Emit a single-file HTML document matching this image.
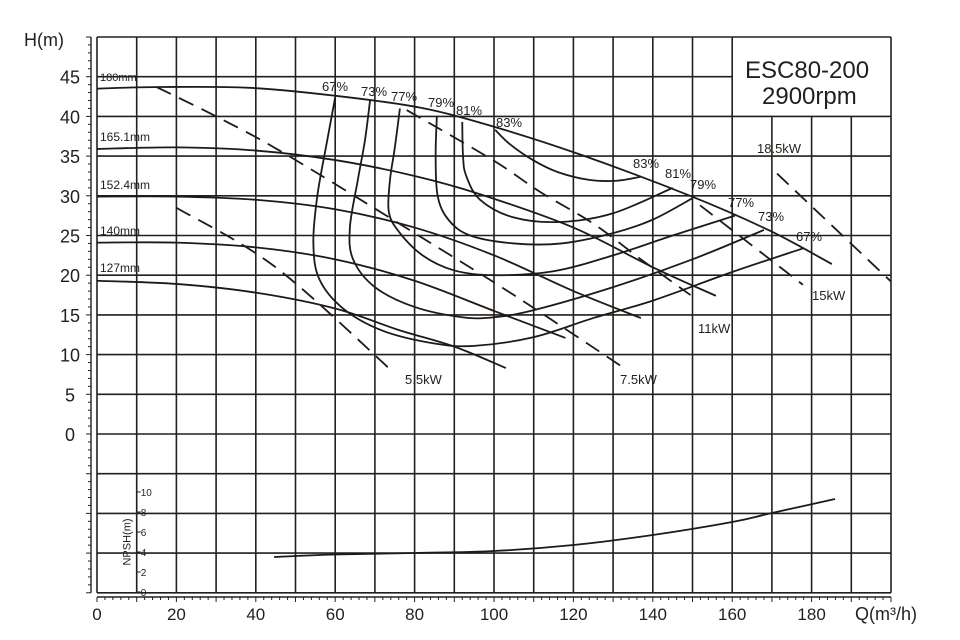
<!DOCTYPE html>
<html><head><meta charset="utf-8"><style>
body{margin:0;background:#fff}
svg{display:block;font-family:"Liberation Sans",sans-serif}
</style></head><body>
<svg id="chart" width="960" height="640" viewBox="0 0 960 640" xmlns="http://www.w3.org/2000/svg">
<rect width="960" height="640" fill="#fff"/>
<g id="grid"></g>
<g id="axes"></g>
<g id="curves"></g>
<g id="labels"></g>
</svg>
<script>
const qTicks=[0,20,40,60,80,100,120,140,160,180];
const hTicks=[0,5,10,15,20,25,30,35,40,45];
const npshTicks=[0,2,4,6,8,10];
const imp180=[[0,43.5],[15.9,43.7],[38.5,43.6],[60,42.6],[81.4,41.1],[100,38.7],[121.7,35.2],[149.4,30],[169.5,25.6],[185.1,21.4]];
const imp165=[[0,35.9],[20,36.1],[40,35.7],[60,34.5],[80,32.5],[96.5,30.2],[120,26],[140,21],[155.9,17.4]];
const imp152=[[0,29.9],[20,29.9],[40,29.5],[60,28.3],[80,26],[100,22.5],[120,18],[137,14.6]];
const imp140=[[0,24.1],[20,24.1],[40,23.5],[60,22],[80,19.3],[100,15.5],[118,12.1]];
const imp127=[[0,19.3],[20,18.9],[40,17.8],[60,15.8],[76,13.1],[90,11],[103,8.3]];
const eff67=[[60,42.4],[58,37],[55.5,30],[54.5,24],[56,19.5],[62,15.8],[72,13],[85,11.4],[95,11.1],[110,12.2],[125,14.6],[140,16.8],[160,20.4],[178,23.4]];
const eff73=[[68.8,42.1],[67.5,37],[65.7,32],[63.7,26],[64.5,22],[70,18.5],[80,16],[92,14.7],[100,14.7],[110,15.6],[130,18.5],[150,22],[168,25.7]];
const eff77=[[76.3,41],[75,36],[73.8,32],[73.5,28],[76,25.5],[82,22.5],[90,20.6],[100,20],[115,20.5],[130,22.5],[145,25],[160.7,27.5]];
const eff79=[[85.6,40],[85.3,35],[85.8,30],[88.5,27],[94,25],[105,24],[117,24],[130,25.3],[140,27],[150,29.7]];
const eff81=[[92,39.3],[92.2,35],[93,32.5],[96.5,29.5],[104.8,27.3],[116.6,26.7],[130,27.8],[145,31]];
const eff83=[[100.3,38.3],[104,36.5],[109.8,34.5],[116,33],[124,32],[131,31.9],[137,32.4]];
const kw55=[[20,28.5],[45,21],[74.6,7.8]];
const kw75=[[15,43.7],[30,40],[47,35.4],[80,25.3],[105,17.5],[132.5,8.4]];
const kw11=[[78,40.8],[99.7,34.5],[111.6,30.5],[125,26.5],[137,22],[149.5,17.5]];
const kw15=[[151.9,28.8],[177.8,18.8]];
const kw185=[[171.3,32.8],[200,19.2]];
const npsh=[[44.6,3.5],[60,3.75],[80,3.9],[100,4.1],[120,4.7],[140,5.7],[160,7],[170,7.9],[185.9,9.3]];

const X=q=>97+q*3.97, Y=h=>434-h*7.94, YN=n=>592-n*10;
const NS='http://www.w3.org/2000/svg';
function mk(tag,attrs,parent,txt){const e=document.createElementNS(NS,tag);for(const k in attrs)e.setAttribute(k,attrs[k]);if(txt!==undefined)e.textContent=txt;parent.appendChild(e);return e;}
const G=document.getElementById('grid'),A=document.getElementById('axes'),C=document.getElementById('curves'),L=document.getElementById('labels');
// grid
for(let q=0;q<=200;q+=10){
  const y1=(q>160&&q<200)?Y(40):Y(50);
  const l=mk('line',{x1:X(q),x2:X(q),y1:y1,y2:Y(-20),stroke:'#231f1c','stroke-width':1.6},G);
  
  
}
for(let h=-20;h<=50;h+=5){
  const x2=(h===45)?X(160):X(200);
  const l=mk('line',{x1:X(0),x2:x2,y1:Y(h),y2:Y(h),stroke:'#231f1c','stroke-width':1.6},G);
  
  
}
// left axis
mk('line',{x1:91,x2:91,y1:Y(50),y2:Y(-20),stroke:'#231f1c','stroke-width':1.4},A);
for(let h=-20;h<=50;h++){const m=h%5===0;mk('line',{x1:m?86:88,x2:91,y1:Y(h),y2:Y(h),stroke:'#231f1c','stroke-width':1},A);}
hTicks.forEach(h=>{const t=mk('text',{x:70,y:Y(h)+7,'font-size':18,'text-anchor':'middle',fill:'#231f1c'},A,String(h));

});
const yt=mk('text',{x:24,y:46,'font-size':18,fill:'#231f1c'},A,'H(m)');


// bottom axis
mk('line',{x1:X(0),x2:X(200),y1:597,y2:597,stroke:'#231f1c','stroke-width':1.4},A);
for(let q=0;q<=200;q+=2){const m=q%10===0;mk('line',{x1:X(q),x2:X(q),y1:597,y2:m?602:600,stroke:'#231f1c','stroke-width':1},A);}
qTicks.forEach(q=>{const t=mk('text',{x:X(q),y:620,'font-size':17,'text-anchor':'middle',fill:'#231f1c'},A,String(q));

});
const xt=mk('text',{x:855,y:620,'font-size':18,fill:'#231f1c'},A,'Q(m³/h)');


// NPSH axis
mk('line',{x1:X(10),x2:X(10),y1:YN(12),y2:YN(0),stroke:'#231f1c','stroke-width':1.4},A);
npshTicks.forEach(n=>{mk('line',{x1:X(10),x2:X(10)+4,y1:YN(n),y2:YN(n),stroke:'#231f1c','stroke-width':1},A);
const t=mk('text',{x:X(10)+4,y:YN(n)+4,'font-size':10,fill:'#231f1c'},A,String(n));

});
const nt=mk('text',{x:0,y:0,'font-size':11,'text-anchor':'middle',fill:'#231f1c',transform:`translate(${X(10)-6},${YN(5)}) rotate(-90)`},A,'NPSH(m)');


// title box bg
mk('rect',{x:X(160)+1,y:Y(50)+1,width:X(200)-X(160)-2,height:Y(40)-Y(50)-2,fill:'#fff'},L);
// curves
function pathD(pts,fx,fy){const p=pts.map(a=>[fx(a[0]),fy(a[1])]);let d=`M${p[0][0]},${p[0][1]}`;
for(let i=0;i<p.length-1;i++){const p0=p[i-1]||p[i],p1=p[i],p2=p[i+1],p3=p[i+2]||p2;
d+=` C${p1[0]+(p2[0]-p0[0])/6},${p1[1]+(p2[1]-p0[1])/6} ${p2[0]-(p3[0]-p1[0])/6},${p2[1]-(p3[1]-p1[1])/6} ${p2[0]},${p2[1]}`;}return d;}
function draw(pts,name,dash,fy){const p=mk('path',{d:pathD(pts,X,fy||Y),fill:'none',stroke:'#1e1a17','stroke-width':1.8},C);
if(dash)p.setAttribute('stroke-dasharray','16 9');

}
draw(imp180,'impeller-180mm');draw(imp165,'impeller-165-1mm');draw(imp152,'impeller-152-4mm');draw(imp140,'impeller-140mm');draw(imp127,'impeller-127mm');
draw(eff67,'efficiency-67');draw(eff73,'efficiency-73');draw(eff77,'efficiency-77');draw(eff79,'efficiency-79');draw(eff81,'efficiency-81');draw(eff83,'efficiency-83');
draw(kw55,'power-5-5kw',1);draw(kw75,'power-7-5kw',1);draw(kw11,'power-11kw',1);draw(kw15,'power-15kw',1);draw(kw185,'power-18-5kw',1);
draw(npsh,'npsh-curve',0,YN);
// labels
const labs=[['180mm',100,81,11,'label-180mm'],['165.1mm',100,141,12,'label-165-1mm'],['152.4mm',100,189,12,'label-152-4mm'],['140mm',100,235,12,'label-140mm'],['127mm',100,272,12,'label-127mm'],
['67%',322,91,13],['73%',361,96,13],['77%',391,101,13],['79%',428,107,13],['81%',456,115,13],['83%',496,127,13],
['83%',633,168,13],['81%',665,178,13],['79%',690,189,13],['77%',728,207,13],['73%',758,221,13],['67%',796,241,13],
['5.5kW',405,384,13],['7.5kW',620,384,13],['11kW',698,333,13],['15kW',812,300,13],['18.5kW',757,153,13],
['ESC80-200',745,78,24,'model-title'],['2900rpm',762,104,24,'speed-subtitle']];
labs.forEach(a=>{const t=mk('text',{x:a[1],y:a[2],'font-size':a[3],fill:'#231f1c'},L,a[0]);

});
</script>
</body></html>
